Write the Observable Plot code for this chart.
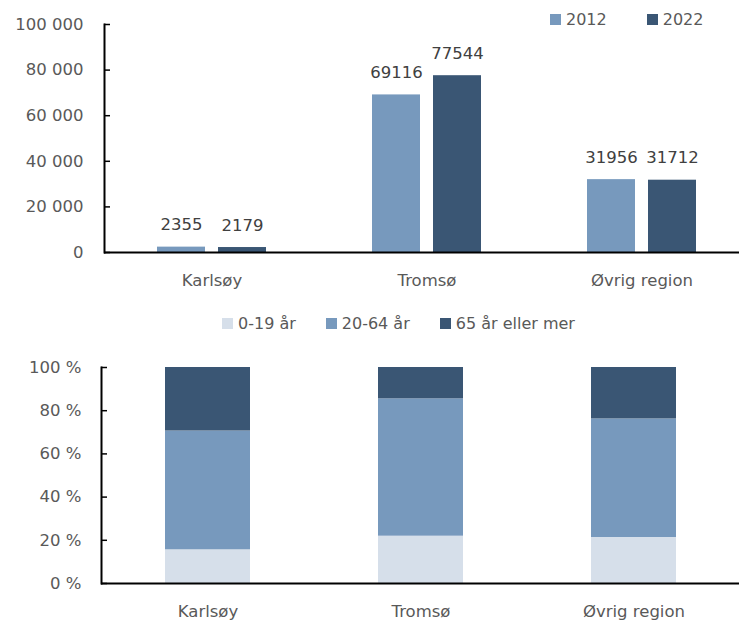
<!DOCTYPE html>
<html><head><meta charset="utf-8">
<script src="https://cdn.jsdelivr.net/npm/d3@7"></script>
<script src="https://cdn.jsdelivr.net/npm/@observablehq/plot@0.6"></script>
<style>
body{margin:0;background:#fff;}
#wrap{position:relative;width:739px;height:622px;font-family:"DejaVu Sans";font-size:16px;color:#595959;overflow:hidden;}
.legend{position:absolute;display:flex;align-items:center;white-space:nowrap;line-height:19px;}
.item{display:flex;align-items:center;}
.sw{width:11px;height:11px;margin-right:5px;}
#top,#bottom{position:absolute;left:0;}
#top{top:0}
#bottom{top:340px}
#leg1{left:550px;top:10px;gap:40px;}
#leg2{left:222px;top:314px;gap:30px;}
</style></head><body>
<div id="wrap"><div id="top"></div><div id="leg1" class="legend"></div><div id="leg2" class="legend"></div><div id="bottom"></div></div>
<script>
const regions = ["Karlsøy", "Tromsø", "Øvrig region"];
const years = ["2012", "2022"];
const pop2012 = [2355, 69116, 31956];
const pop2022 = [2179, 77544, 31712];
const popTicks = [0, 20000, 40000, 60000, 80000, 100000];
const yearColors = ["#7799BD", "#3A5674"];

const ageGroups = ["0-19 år", "20-64 år", "65 år eller mer"];
const share0_19 = [15.6, 21.9, 21.3];
const share20_64 = [55.0, 63.6, 54.9];
const share65 = [29.4, 14.5, 23.8];
const shareTicks = [0, 20, 40, 60, 80, 100];
const ageColors = ["#D6DFEA", "#7799BD", "#3A5674"];

const fmtPop = d => String(d).replace(/\B(?=(\d{3})+(?!\d))/g, " ");
const fmtPct = d => `${d} %`;
const font = {fontFamily: "DejaVu Sans", fontSize: "16.5px", color: "#595959", background: "transparent", overflow: "visible"};

const topData = regions.map((r, i) => ({region: r, y2012: pop2012[i], y2022: pop2022[i]}));

const topChart = Plot.plot({
  width: 739, height: 300, marginTop: 24, marginBottom: 48, marginLeft: 104, marginRight: 0,
  style: font,
  x: {domain: regions, range: [104, 749], padding: 0, label: null},
  y: {domain: [0, 100000], label: null},
  marks: [
    Plot.barY(topData, {x: "region", y: "y2012", fill: yearColors[0], insetLeft: 53, insetRight: 114}),
    Plot.barY(topData, {x: "region", y: "y2022", fill: yearColors[1], insetLeft: 114, insetRight: 53}),
    Plot.text(topData, {x: "region", y: "y2012", text: d => String(d.y2012), dx: -30.5, dy: -22, fill: "#404040", fontSize: 16.5}),
    Plot.text(topData, {x: "region", y: "y2022", text: d => String(d.y2022), dx: 30.5, dy: -22, fill: "#404040", fontSize: 16.5}),
    Plot.axisX({tickSize: 0, tickPadding: 22, label: null, fill: "#595959"}),
    Plot.axisY({ticks: popTicks, tickSize: 0, tickPadding: 21, tickFormat: fmtPop, label: null, fill: "#595959"}),
    Plot.axisY({ticks: popTicks, tickSize: 6, dx: 6, tickFormat: () => "", label: null, stroke: "black", strokeWidth: 1.5}),
    Plot.ruleY([0], {stroke: "black", strokeWidth: 2}),
    Plot.frame({anchor: "left", stroke: "black", strokeWidth: 2})
  ]
});
document.getElementById("top").append(topChart);

const ageData = regions.flatMap((r, i) => [
  {region: r, group: ageGroups[0], value: share0_19[i]},
  {region: r, group: ageGroups[1], value: share20_64[i]},
  {region: r, group: ageGroups[2], value: share65[i]}
]);

const bottomChart = Plot.plot({
  width: 739, height: 282, marginTop: 27, marginBottom: 39, marginLeft: 101, marginRight: 0,
  style: font,
  x: {domain: regions, range: [101, 740], padding: 0, label: null},
  y: {domain: [0, 100], label: null},
  color: {domain: ageGroups, range: ageColors},
  marks: [
    Plot.barY(ageData, {x: "region", y: "value", fill: "group", insetLeft: 64, insetRight: 64}),
    Plot.axisX({tickSize: 0, tickPadding: 22, label: null, fill: "#595959"}),
    Plot.axisY({ticks: shareTicks, tickSize: 0, tickPadding: 20, tickFormat: fmtPct, label: null, fill: "#595959"}),
    Plot.axisY({ticks: shareTicks, tickSize: 6, dx: 6, tickFormat: () => "", label: null, stroke: "black", strokeWidth: 1.5}),
    Plot.ruleY([0], {stroke: "black", strokeWidth: 2}),
    Plot.frame({anchor: "left", stroke: "black", strokeWidth: 2})
  ]
});
document.getElementById("bottom").append(bottomChart);

function legend(el, labels, colors) {
  labels.forEach((l, i) => {
    const item = document.createElement("div");
    item.className = "item";
    const sw = document.createElement("div");
    sw.className = "sw";
    sw.style.background = colors[i];
    const t = document.createElement("span");
    t.textContent = l;
    item.append(sw, t);
    el.append(item);
  });
}
legend(document.getElementById("leg1"), years, yearColors);
legend(document.getElementById("leg2"), ageGroups, ageColors);
</script>
</body></html>
